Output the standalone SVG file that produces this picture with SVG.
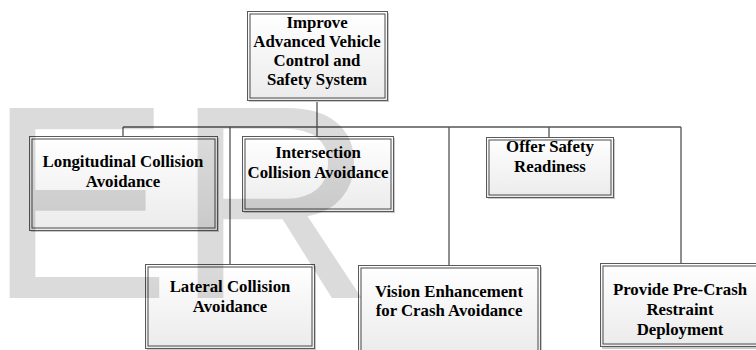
<svg xmlns="http://www.w3.org/2000/svg" width="756" height="350" viewBox="0 0 756 350">
<defs>
<linearGradient id="g" x1="0" y1="0" x2="0" y2="1">
<stop offset="0" stop-color="#ffffff"/>
<stop offset="1" stop-color="#ebebeb"/>
</linearGradient>
<style>
.sh{fill:#c9c9c9}
.ob{fill:url(#g);stroke:#5a5a5a;stroke-width:1}
.ib{fill:none;stroke:#4a4a4a;stroke-width:1}
.t{font-family:"Liberation Serif","Times New Roman",serif;font-weight:bold;font-size:16.8px;fill:#000;text-anchor:middle}
.c{fill:none;stroke:#555;stroke-width:1.3}
.wm{font-family:"Liberation Sans",Arial,sans-serif;font-size:276px;fill:#000;fill-opacity:0.14}
</style>
</defs>
<rect width="756" height="350" fill="#fff"/>
<g id="connectors">
<path class="c" d="M317 100V136M123 127H681M123 127V136M230 127V264M449 127V265M549 127V137M681 127V263"/>
</g>
<g id="n-top">
<rect class="sh" x="249" y="13" width="140" height="89"/>
<rect class="ob" x="247.5" y="11.5" width="140" height="89"/>
<rect class="ib" x="250" y="14" width="135" height="84"/>
<text class="t" x="317" y="27.5">Improve</text>
<text class="t" x="317" y="46.5">Advanced Vehicle</text>
<text class="t" x="317" y="65.5">Control and</text>
<text class="t" x="317" y="85">Safety System</text>
</g>
<g id="n-long">
<rect class="sh" x="31" y="138" width="188" height="94"/>
<rect class="ob" x="29.5" y="136.5" width="188" height="94"/>
<rect class="ib" x="32" y="139" width="183" height="89"/>
<text class="t" x="123" y="166.5">Longitudinal Collision</text>
<text class="t" x="123" y="186.5">Avoidance</text>
</g>
<g id="n-inter">
<rect class="sh" x="244" y="138" width="151" height="75"/>
<rect class="ob" x="242.5" y="136.5" width="151" height="75"/>
<rect class="ib" x="245" y="139" width="146" height="70"/>
<text class="t" x="318" y="158">Intersection</text>
<text class="t" x="318" y="178">Collision Avoidance</text>
</g>
<g id="n-offer">
<rect class="sh" x="488" y="139" width="127" height="60"/>
<rect class="ob" x="486.5" y="137.5" width="127" height="60"/>
<rect class="ib" x="489" y="140" width="122" height="55"/>
<text class="t" x="550" y="151.5">Offer Safety</text>
<text class="t" x="550" y="171.5">Readiness</text>
</g>
<g id="n-lateral">
<rect class="sh" x="147" y="266" width="169" height="85"/>
<rect class="ob" x="145.5" y="264.5" width="169" height="84"/>
<rect class="ib" x="148" y="267" width="164" height="79"/>
<text class="t" x="230" y="291.5">Lateral Collision</text>
<text class="t" x="230" y="311.5">Avoidance</text>
</g>
<g id="n-vision">
<rect class="sh" x="360" y="267" width="182" height="90"/>
<rect class="ob" x="358.5" y="265.5" width="182" height="90"/>
<rect class="ib" x="361" y="268" width="177" height="90"/>
<text class="t" x="449" y="296.5">Vision Enhancement</text>
<text class="t" x="449" y="316">for Crash Avoidance</text>
</g>
<g id="n-provide">
<rect class="sh" x="602" y="265" width="160" height="84"/>
<rect class="ob" x="600.5" y="263.5" width="160" height="83"/>
<rect class="ib" x="603" y="266" width="160" height="78"/>
<text class="t" x="680" y="295">Provide Pre-Crash</text>
<text class="t" x="680" y="315">Restraint</text>
<text class="t" x="680" y="335">Deployment</text>
</g>
<g id="watermark">
<text class="wm" x="-13" y="298">E</text>
<text class="wm" x="175" y="298">R</text>
</g>
</svg>
